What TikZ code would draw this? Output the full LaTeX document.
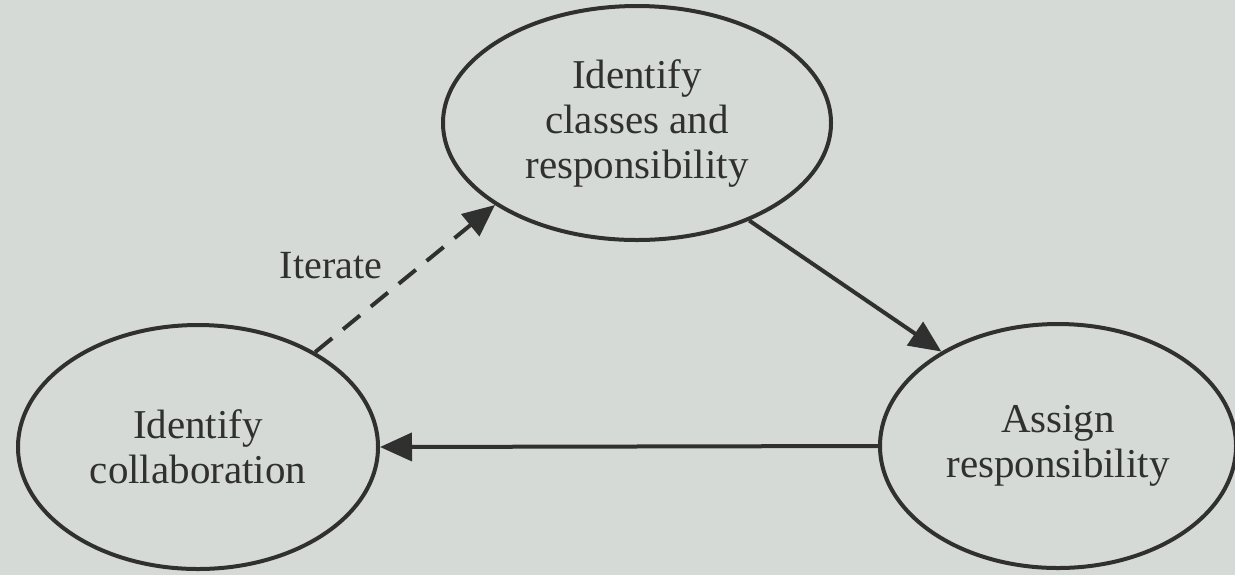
\documentclass[tikz,border=0pt]{standalone}
\usepackage{fontspec}
\setmainfont{Liberation Serif}
\usetikzlibrary{shapes.geometric,arrows.meta}
\definecolor{paper}{RGB}{214,218,214}
\definecolor{ink}{RGB}{48,48,48}
\tikzset{
  phase/.style={ellipse, draw=ink, line width=2pt, inner sep=0pt,
    text=ink, align=center, font=\fontsize{20.5}{22.5}\selectfont},
  flow/.style={draw=ink, line width=2pt,
    -{Triangle[length=16pt,width=14pt]}},
  iter/.style={flow, dash pattern=on 11pt off 7pt}
}
\begin{document}
\begin{tikzpicture}[x=0.5pt,y=-0.5pt]
  \fill[paper] (0,0) rectangle (1235,575);
  \useasboundingbox (0,0) rectangle (1235,575);

  \node[phase, minimum width=194pt, minimum height=117pt] (classes) at (637,123)
    {Identify\\classes and\\responsibility};
  \node[phase, minimum width=180pt, minimum height=122pt] (collab) at (198,447)
    {Identify\\collaboration};
  \node[phase, minimum width=178pt, minimum height=122pt] (assign) at (1058,446)
    {Assign\\responsibility};

  \node[text=ink, font=\fontsize{20}{22}\selectfont] (itlabel) at (331,266) {Iterate};

  \draw[flow] (classes.-41) -- (assign.141);
  \draw[flow] (assign.west) -- (collab.east);
  \draw[iter] (collab.39) -- (classes.210);
\end{tikzpicture}
\end{document}
